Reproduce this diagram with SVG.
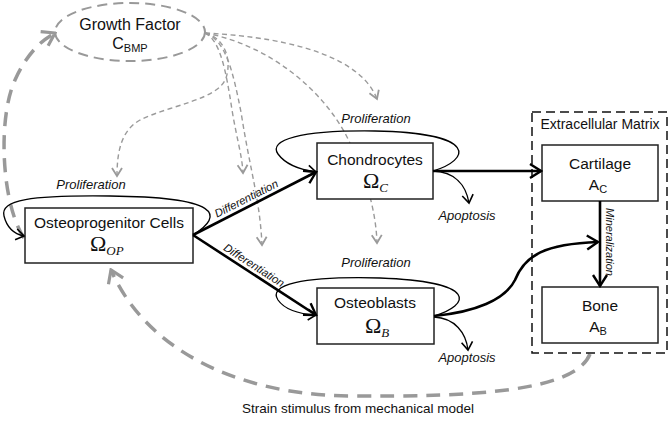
<svg xmlns="http://www.w3.org/2000/svg" width="671" height="421" viewBox="0 0 671 421">
<style>
.box{fill:#fff;stroke:#222;stroke-width:1.5}
.t{font-family:"Liberation Sans",Arial,sans-serif;font-size:15.5px;fill:#111;text-anchor:middle}
.om{font-family:"Liberation Serif","Times New Roman",serif;font-size:22px;fill:#111}
.sub{font-family:"Liberation Serif","Times New Roman",serif;font-style:italic;font-size:13px}
.subs{font-family:"Liberation Sans",Arial,sans-serif;font-size:11px}
.it{font-family:"Liberation Sans",Arial,sans-serif;font-style:italic;font-size:13px;fill:#111;text-anchor:middle}
.sm{font-family:"Liberation Sans",Arial,sans-serif;font-style:italic;font-size:11.3px;fill:#111;text-anchor:middle}
.gthin{fill:none;stroke:#9a9a9a;stroke-width:1.4;stroke-dasharray:5 3.5}
.gthick{fill:none;stroke:#999;stroke-width:3.5;stroke-dasharray:14 9}
.thick{fill:none;stroke:#000;stroke-width:2.6}
.thin{fill:none;stroke:#000;stroke-width:1.3}
</style>
<defs>
<marker id="ahk" viewBox="-14 -9 16 18" refX="0" refY="0" markerWidth="16" markerHeight="18" markerUnits="userSpaceOnUse" orient="auto"><path d="M-11,-7 L0,0 L-11,7" fill="none" stroke="#000" stroke-width="2.4"/></marker>
<marker id="ahn" viewBox="-10 -7 12 14" refX="0" refY="0" markerWidth="12" markerHeight="14" markerUnits="userSpaceOnUse" orient="auto"><path d="M-8,-5.5 L0,0 L-8,5.5" fill="none" stroke="#000" stroke-width="1.6"/></marker>
<marker id="ahg" viewBox="-10 -7 12 14" refX="0" refY="0" markerWidth="12" markerHeight="14" markerUnits="userSpaceOnUse" orient="auto"><path d="M-8,-5 L0,0 L-8,5" fill="none" stroke="#9a9a9a" stroke-width="1.8"/></marker>
<marker id="ahG" viewBox="-16 -11 18 22" refX="0" refY="0" markerWidth="18" markerHeight="22" markerUnits="userSpaceOnUse" orient="auto"><path d="M-12,-8 L0,0 L-12,8" fill="none" stroke="#999" stroke-width="3.2"/></marker>
</defs>

<g id="gf-connectors">
<path class="gthin" d="M205,33 C225,38 232,60 226,78 C218,100 170,105 140,120 C122,130 117,150 117,176" marker-end="url(#ahg)"/>
<path class="gthin" d="M205,33 C220,40 226,70 232,110 C237,140 242,155 243,173" marker-end="url(#ahg)"/>
<path class="gthin" d="M205,33 C226,40 233,72 241,112 C250,170 260,200 262,245" marker-end="url(#ahg)"/>
<path class="gthin" d="M205,33 C300,38 362,60 377,99" marker-end="url(#ahg)"/>
<path class="gthin" d="M205,33 C270,45 322,90 346,135 C365,172 376,210 377,243" marker-end="url(#ahg)"/>
<path class="gthick" d="M24,238 C2,205 -3,120 15,80 C25,58 38,42 55,33" marker-end="url(#ahG)"/>
<path class="gthick" d="M590,354 C575,392 470,397 350,396 C235,395 145,348 111,270" marker-end="url(#ahG)"/>
</g>

<g id="ecm">
<rect x="532" y="112" width="135" height="241" fill="none" stroke="#111" stroke-width="1.5" stroke-dasharray="9 5"/>
<text class="t" x="600" y="129" style="font-size:14px">Extracellular Matrix</text>
</g>

<g id="growth-factor">
<ellipse cx="130" cy="32" rx="75" ry="29" fill="none" stroke="#999" stroke-width="2" stroke-dasharray="10 6"/>
<text class="t" x="130" y="30" style="font-size:16px">Growth Factor</text>
<text class="t" x="130" y="49" style="font-size:16px">C<tspan class="subs" dy="3">BMP</tspan></text>
</g>

<g id="osteoprogenitor">
<rect class="box" x="25" y="208" width="168" height="55"/>
<text class="t" x="109" y="228">Osteoprogenitor Cells</text>
<text class="om" x="90" y="251">Ω<tspan class="sub" dy="4">OP</tspan></text>
</g>

<g id="chondrocytes">
<rect class="box" x="317" y="143" width="116" height="56"/>
<text class="t" x="375" y="165">Chondrocytes</text>
<text class="om" x="363" y="188">Ω<tspan class="sub" dy="4">C</tspan></text>
</g>

<g id="osteoblasts">
<rect class="box" x="317" y="288" width="117" height="56"/>
<text class="t" x="375" y="308">Osteoblasts</text>
<text class="om" x="365" y="333">Ω<tspan class="sub" dy="4">B</tspan></text>
</g>

<g id="cartilage">
<rect class="box" x="542" y="145" width="116" height="56"/>
<text class="t" x="600" y="169">Cartilage</text>
<text class="t" x="598" y="190">A<tspan class="subs" dy="3">C</tspan></text>
</g>

<g id="bone">
<rect class="box" x="542" y="287" width="116" height="56"/>
<text class="t" x="600" y="311">Bone</text>
<text class="t" x="598" y="332">A<tspan class="subs" dy="3">B</tspan></text>
</g>

<g id="connectors">
<path class="thin" d="M193,235 C225,215 220,197 110,196 C30,195 0,200 4,216 C7,228 14,234 24,236" marker-end="url(#ahn)"/>
<path class="thin" d="M433,171 C470,160 480,133 375,131 C300,130 268,140 278,154 C286,165 302,170 316,172" marker-end="url(#ahn)"/>
<path class="thin" d="M434,316 C470,305 480,282 380,278 C300,276 268,285 278,300 C285,310 300,314 316,315" marker-end="url(#ahn)"/>
<path class="thick" d="M193,235 L316,172" marker-end="url(#ahk)"/>
<path class="thick" d="M193,235 L316,315" marker-end="url(#ahk)"/>
<path class="thick" d="M433,171 L541,171" marker-end="url(#ahk)"/>
<path class="thick" d="M600,201 L600,286" marker-end="url(#ahk)"/>
<path class="thick" d="M434,316 C475,312 505,300 515,280 C525,255 545,244 598,242" marker-end="url(#ahk)"/>
<path class="thin" d="M433,171 C455,172 466,185 469,203" marker-end="url(#ahn)"/>
<path class="thin" d="M434,317 C455,318 466,333 468,350" marker-end="url(#ahn)"/>
</g>

<g id="labels">
<text class="it" x="91" y="189">Proliferation</text>
<text class="it" x="376" y="123">Proliferation</text>
<text class="it" x="376" y="267">Proliferation</text>
<text class="it" x="467" y="220">Apoptosis</text>
<text class="it" x="467" y="362">Apoptosis</text>
<text class="sm" transform="translate(248,202) rotate(-27)">Differentiation</text>
<text class="sm" transform="translate(252,268.5) rotate(33)">Differentiation</text>
<text class="sm" transform="translate(606,242) rotate(90)" style="font-size:11px">Mineralization</text>
<text class="t" x="358" y="413" style="font-size:13.5px">Strain stimulus from mechanical model</text>
</g>
</svg>
